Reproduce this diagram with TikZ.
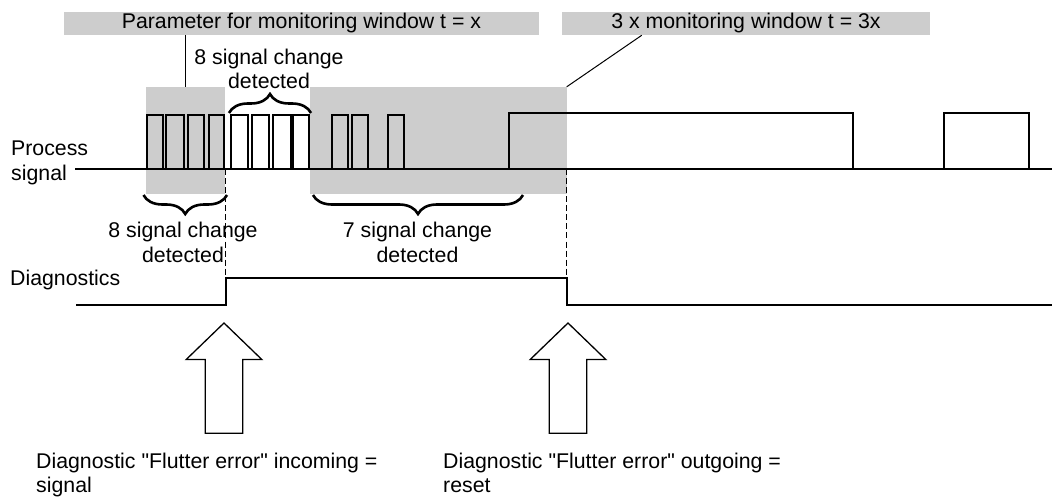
\documentclass[tikz,border=0pt]{standalone}
\usepackage{fontspec}
\setmainfont{Liberation Sans}
\usepackage{tikz}
\usetikzlibrary{calc,decorations.pathreplacing}
\definecolor{wingray}{RGB}{205,205,205}
\tikzstyle{txt} = [inner sep=0pt, font=\fontsize{21.3}{24.5}\selectfont]
\tikzstyle{head} = [txt, rectangle, fill=wingray, minimum height=23.5pt, text centered]
\tikzstyle{win} = [rectangle, fill=wingray, inner sep=0pt, minimum height=107pt]
\tikzstyle{sig} = [line width=2pt, black, line join=miter]
\tikzstyle{callout} = [line width=1pt, black]
\tikzstyle{dashline} = [line width=1pt, black, dash pattern=on 6pt off 3pt]
\tikzstyle{curlyup} = [line width=2.6pt, decorate, decoration={brace, amplitude=19pt}]
\tikzstyle{curlydown} = [line width=2.6pt, decorate, decoration={brace, mirror, amplitude=19pt}]
\tikzstyle{bigarrow} = [line width=1.3pt, fill=white, line join=miter]

\begin{document}
\begin{tikzpicture}[x=1pt,y=-1pt]
            \useasboundingbox (0,0) rectangle (1052,497);
            \node(parbox)[head,minimum width=475pt] at (301.5,23.3){Parameter for monitoring window t = x};
            \node(tripbox)[head,minimum width=368pt] at (746,23.3){3 x monitoring window t = 3x};
            \node(win1)[win,minimum width=79.5pt] at (185.25,140.5){};
            \node(win3)[win,minimum width=257pt] at (438,140.5){};
            \draw[callout](win1.north)--(win1.north |- parbox.south);
            \draw[callout](win3.north east)--($(tripbox.south west)+(80,0)$);
            \node(proclbl)[txt,anchor=north west,align=left] at (11,141){Process\\signal};
            \node(diaglbl)[txt,anchor=north west] at (10,269.5){Diagnostics};
            \coordinate(p0) at (75,169.5);
            \coordinate(p1) at (1052,169.5);
            \coordinate(d0) at (76,305);
            \coordinate(d1) at (1052,305);
            \draw[sig](p0)--(p1);
            \foreach \a/\b in {146.7/163,166/183.5,187.5/203.5,208.5/224,230.7/248.3,251.7/269.3,272.7/290.7,293.3/309.3,331.7/348.3,352.3/367.7,388.3/404}
                \draw[sig](\a,169.5) |- (\b,115.5) -- (\b,169.5);
            \foreach \a/\b in {508.5/852.7,944/1029.3}
                \draw[sig](\a,169.5) |- (\b,113.5) -- (\b,169.5);
            \draw[sig](d0) -| (225.5,277.5) -| (566.5,305) -- (d1);
            \draw[dashline](225.5,169.5)--(225.5,277.5);
            \draw[dashline](566.5,169.5)--(566.5,277.5);
            \draw[curlyup](229,113)--(311,113);
            \draw[curlydown](143.5,195)--(227,195);
            \draw[curlydown](313,195)--(523,195);
            \node(top8)[txt,anchor=north,align=center] at (269,48.5){8 signal change\\detected};
            \node(left8)[txt,anchor=north,align=center] at (183,222){8 signal change\\detected};
            \node(right7)[txt,anchor=north,align=center] at (417.5,222){7 signal change\\detected};
            \foreach \x/\n in {224/inarrow,568/outarrow}{
                \coordinate(\n) at (\x,323);
                \draw[bigarrow](\n) -- ++(37.8,36.5) -- ++(-19.1,0) -- ++(0,73.8) -- ++(-37.4,0) -- ++(0,-73.8) -- ++(-19.1,0) -- cycle;
            }
            \node(inlbl)[txt,anchor=north west,align=left] at (36,452.5){Diagnostic \textquotedbl Flutter error\textquotedbl\ incoming =\\signal};
            \node(outlbl)[txt,anchor=north west,align=left] at (443,452.5){Diagnostic \textquotedbl Flutter error\textquotedbl\ outgoing =\\reset};
\end{tikzpicture}
\end{document}
